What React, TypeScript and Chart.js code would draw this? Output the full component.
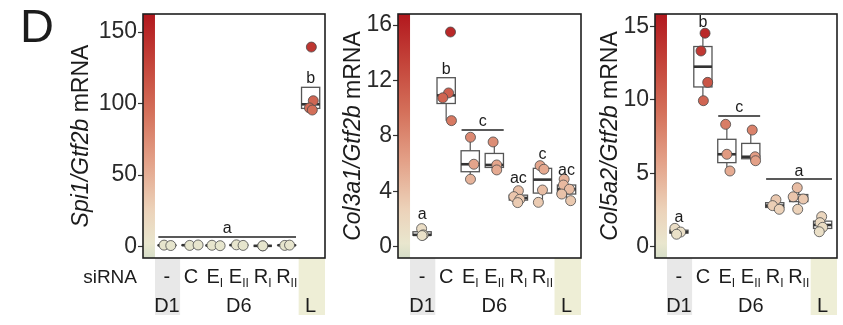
import React, { useEffect, useRef } from 'react';
import { Chart, registerables } from 'chart.js';
Chart.register(...registerables);

const W = 843;
const H = 325;
const FF = '"Liberation Sans", Arial, Helvetica, sans-serif';
const TEXT = '#1c1c1c';
const AXW = 45;

// ---- categories ----
const catLabels = ['-', 'C', 'E', 'E', 'R', 'R', ''];
const catSubs = ['', '', 'I', 'II', 'I', 'II', ''];
const groupLabels = ['D1', 'D6', 'L'];
const groupFrom = [1, 2, 7];
const groupTo = [1, 6, 7];

// ---- Panel 1: Spi1/Gtf2b ----
const spi1Ticks = [0, 50, 100, 150];
const spi1Values = [[1.1, 0.8], [0.9, 1.2], [1.0, 0.7], [1.3, 0.9], [0.6, 0.6], [0.9, 1.1], [139.5, 102, 97, 95.5]];
const spi1Jitter = [[-0.12, 0.16], [-0.05, 0.3], [-0.12, 0.22], [-0.1, 0.18], [0, 0], [-0.08, 0.12], [0.03, 0.11, -0.05, 0.07]];
const spi1SigText = ['a', 'b'];
const spi1SigFrom = [1, 7];
const spi1SigTo = [6, 7];
const spi1SigY = [6.8, 114.2];
const spi1SigLine = [true, false];

// ---- Panel 2: Col3a1/Gtf2b ----
const col3Ticks = [0, 4, 8, 12, 16];
const col3Values = [[1.3, 0.85, 0.8], [15.5, 11.1, 10.75, 9.1], [7.9, 5.95, 4.87], [7.56, 5.9, 5.54], [4.04, 3.61, 3.42, 3.18], [5.85, 5.59, 4.09, 3.2], [4.87, 4.45, 4.15, 3.8, 3.32]];
const col3Jitter = [[-0.02, 0.05, 0.0], [0.18, 0.1, -0.14, 0.22], [0.01, 0.15, 0.01], [-0.05, 0.1, 0.1], [0.0, -0.19, 0.06, -0.03], [-0.1, 0.06, 0.0, -0.17], [-0.1, -0.13, 0.12, -0.2, 0.17]];
const col3SigText = ['a', 'b', 'c', 'ac', 'c', 'ac'];
const col3SigFrom = [1, 2, 3, 5, 6, 7];
const col3SigTo = [1, 2, 4, 5, 6, 7];
const col3SigY = [1.98, 12.5, 8.43, 4.58, 6.31, 5.18];
const col3SigLine = [false, false, true, false, false, false];

// ---- Panel 3: Col5a2/Gtf2b ----
const col5Ticks = [0, 5, 10, 15];
const col5Values = [[1.25, 1.0, 0.85], [14.55, 13.34, 11.2, 9.95], [8.34, 6.3, 5.16], [7.95, 6.13, 5.86], [3.2, 2.8, 2.55], [4.02, 3.4, 3.25, 2.55], [2.05, 1.64, 1.32, 1.02]];
const col5Jitter = [[-0.17, 0.07, -0.1], [0.09, -0.08, 0.2, 0.02], [-0.05, 0.0, 0.13], [0.06, 0.18, 0.2], [0.05, -0.09, 0.19], [-0.06, -0.23, 0.19, -0.04], [-0.04, -0.11, 0.0, -0.14]];
const col5SigText = ['a', 'b', 'c', 'a'];
const col5SigFrom = [1, 2, 3, 5];
const col5SigTo = [1, 2, 4, 7];
const col5SigY = [1.7, 14.96, 8.91, 4.61];
const col5SigLine = [false, false, true, true];

type Panel = {
  left: number; right: number; top: number; bottom: number;
  yMin: number; yMax: number; ticks: number[];
  values: number[][]; jitter: number[][];
  sigText: string[]; sigFrom: number[]; sigTo: number[]; sigY: number[]; sigLine: boolean[];
  titleItalic: string; titleRest: string; titleX: number;
  first: boolean;
};

const panels: Panel[] = [
  { left: 143, right: 325, top: 14, bottom: 258, yMin: -7.9, yMax: 162.6, ticks: spi1Ticks, values: spi1Values, jitter: spi1Jitter,
    sigText: spi1SigText, sigFrom: spi1SigFrom, sigTo: spi1SigTo, sigY: spi1SigY, sigLine: spi1SigLine,
    titleItalic: 'Spi1/Gtf2b', titleRest: ' mRNA', titleX: 88, first: true },
  { left: 398, right: 581, top: 14, bottom: 258, yMin: -0.82, yMax: 16.8, ticks: col3Ticks, values: col3Values, jitter: col3Jitter,
    sigText: col3SigText, sigFrom: col3SigFrom, sigTo: col3SigTo, sigY: col3SigY, sigLine: col3SigLine,
    titleItalic: 'Col3a1/Gtf2b', titleRest: ' mRNA', titleX: 360, first: false },
  { left: 655, right: 837, top: 14, bottom: 258, yMin: -0.77, yMax: 15.86, ticks: col5Ticks, values: col5Values, jitter: col5Jitter,
    sigText: col5SigText, sigFrom: col5SigFrom, sigTo: col5SigTo, sigY: col5SigY, sigLine: col5SigLine,
    titleItalic: 'Col5a2/Gtf2b', titleRest: ' mRNA', titleX: 617, first: false },
];

const stops: [number, number[]][] = [
  [0, [214, 222, 200]],
  [0.06, [233, 230, 206]],
  [0.2, [236, 210, 185]],
  [0.4, [227, 160, 135]],
  [0.6, [212, 112, 90]],
  [0.8, [196, 68, 58]],
  [1, [178, 24, 30]],
];
function colorAt(t: number) {
  t = Math.max(0, Math.min(1, t));
  for (let i = 1; i < stops.length; i++) {
    if (t <= stops[i][0]) {
      const [t0, c0] = stops[i - 1];
      const [t1, c1] = stops[i];
      const f = (t - t0) / (t1 - t0);
      const c = c0.map((v, k) => Math.round(v + (c1[k] - v) * f));
      return `rgb(${c[0]},${c[1]},${c[2]})`;
    }
  }
  const c = stops[stops.length - 1][1];
  return `rgb(${c[0]},${c[1]},${c[2]})`;
}

function q7(s: number[], p: number) {
  const h = (s.length - 1) * p;
  const lo = Math.floor(h);
  const hi = Math.ceil(h);
  return s[lo] + (h - lo) * (s[hi] - s[lo]);
}
function boxStats(vals: number[]) {
  const s = [...vals].sort((a, b) => a - b);
  const q1 = q7(s, 0.25), med = q7(s, 0.5), q3 = q7(s, 0.75);
  const iqr = q3 - q1;
  const lo = Math.min(...s.filter((v) => v >= q1 - 1.5 * iqr));
  const hi = Math.max(...s.filter((v) => v <= q3 + 1.5 * iqr));
  return { q1, med, q3, lo, hi };
}

function makePlugin(p: Panel) {
  return {
    id: 'panelDecor',
    beforeDraw(chart: any) {
      const ctx = chart.ctx as CanvasRenderingContext2D;
      const a = chart.chartArea;
      const xs = chart.scales.x;
      ctx.save();
      // gradient strip
      const g = ctx.createLinearGradient(0, a.bottom, 0, a.top);
      stops.forEach(([t, c]) => g.addColorStop(t, `rgb(${c[0]},${c[1]},${c[2]})`));
      ctx.fillStyle = g;
      ctx.fillRect(a.left, a.top, xs.getPixelForValue(0.5) - a.left, a.bottom - a.top);
      // bands under axis
      ctx.fillStyle = '#e8e8e8';
      const g1 = xs.getPixelForValue(0.5), g2 = xs.getPixelForValue(1.55);
      ctx.fillRect(g1, a.bottom, g2 - g1, 315 - a.bottom);
      ctx.fillStyle = '#eeeed6';
      const l1 = xs.getPixelForValue(6.5);
      ctx.fillRect(l1, a.bottom, a.right - l1, 315 - a.bottom);
      // category labels
      ctx.fillStyle = TEXT;
      ctx.textBaseline = 'alphabetic';
      ctx.textAlign = 'left';
      for (let i = 0; i < catLabels.length; i++) {
        if (!catLabels[i]) continue;
        const cx = xs.getPixelForValue(i + 1);
        ctx.font = `20px ${FF}`;
        const mw = ctx.measureText(catLabels[i]).width;
        ctx.font = `12px ${FF}`;
        const sw = catSubs[i] ? ctx.measureText(catSubs[i]).width : 0;
        const x0 = cx - (mw + sw) / 2;
        ctx.font = `20px ${FF}`;
        ctx.fillText(catLabels[i], x0, 283);
        if (catSubs[i]) {
          ctx.font = `12px ${FF}`;
          ctx.fillText(catSubs[i], x0 + mw, 287);
        }
      }
      ctx.textAlign = 'center';
      ctx.font = `20px ${FF}`;
      for (let i = 0; i < groupLabels.length; i++) {
        const cx = xs.getPixelForValue((groupFrom[i] + groupTo[i]) / 2);
        ctx.fillText(groupLabels[i], cx, 312);
      }
      if (p.first) {
        ctx.textAlign = 'right';
        ctx.font = `19px ${FF}`;
        ctx.fillText('siRNA', 137, 283);
        ctx.textAlign = 'left';
        ctx.font = `47px ${FF}`;
        ctx.fillText('D', 20, 42);
      }
      // y title
      const yc = (a.top + a.bottom) / 2;
      ctx.translate(p.titleX, yc);
      ctx.rotate(-Math.PI / 2);
      ctx.font = `italic 23px ${FF}`;
      const w1 = ctx.measureText(p.titleItalic).width;
      ctx.font = `23px ${FF}`;
      const w2 = ctx.measureText(p.titleRest).width;
      const sx = -(w1 + w2) / 2;
      ctx.textAlign = 'left';
      ctx.font = `italic 23px ${FF}`;
      ctx.fillText(p.titleItalic, sx, 0);
      ctx.font = `23px ${FF}`;
      ctx.fillText(p.titleRest, sx + w1, 0);
      ctx.restore();
    },
    beforeDatasetsDraw(chart: any) {
      const ctx = chart.ctx as CanvasRenderingContext2D;
      const xs = chart.scales.x, ys = chart.scales.y;
      ctx.save();
      p.values.forEach((vals, i) => {
        const st = boxStats(vals);
        const cx = xs.getPixelForValue(i + 1);
        const hw = (xs.getPixelForValue(i + 1.38) - xs.getPixelForValue(i + 1));
        const yq1 = ys.getPixelForValue(st.q1), yq3 = ys.getPixelForValue(st.q3);
        ctx.strokeStyle = '#555';
        ctx.lineWidth = 1.2;
        ctx.beginPath();
        ctx.moveTo(cx, ys.getPixelForValue(st.hi));
        ctx.lineTo(cx, yq3);
        ctx.moveTo(cx, yq1);
        ctx.lineTo(cx, ys.getPixelForValue(st.lo));
        ctx.stroke();
        ctx.fillStyle = '#ffffff';
        ctx.fillRect(cx - hw, yq3, 2 * hw, yq1 - yq3);
        ctx.lineWidth = 1.3;
        ctx.strokeRect(cx - hw, yq3, 2 * hw, yq1 - yq3);
        ctx.strokeStyle = '#333';
        ctx.lineWidth = 2.6;
        ctx.beginPath();
        const ym = ys.getPixelForValue(st.med);
        ctx.moveTo(cx - hw, ym);
        ctx.lineTo(cx + hw, ym);
        ctx.stroke();
      });
      ctx.restore();
    },
    afterDatasetsDraw(chart: any) {
      const ctx = chart.ctx as CanvasRenderingContext2D;
      const a = chart.chartArea;
      const xs = chart.scales.x, ys = chart.scales.y;
      ctx.save();
      ctx.fillStyle = TEXT;
      ctx.strokeStyle = '#222';
      ctx.font = `16px ${FF}`;
      ctx.textAlign = 'center';
      ctx.textBaseline = 'alphabetic';
      p.sigText.forEach((t, i) => {
        const y = ys.getPixelForValue(p.sigY[i]);
        if (p.sigLine[i]) {
          const x1 = xs.getPixelForValue(p.sigFrom[i] - 0.36);
          const x2 = xs.getPixelForValue(p.sigTo[i] + 0.39);
          ctx.lineWidth = 1.5;
          ctx.beginPath();
          ctx.moveTo(x1, y);
          ctx.lineTo(x2, y);
          ctx.stroke();
          ctx.fillText(t, (x1 + x2) / 2, y - 3.5);
        } else {
          ctx.fillText(t, xs.getPixelForValue((p.sigFrom[i] + p.sigTo[i]) / 2), y);
        }
      });
      ctx.lineWidth = 1.6;
      ctx.strokeStyle = '#1e1e1e';
      ctx.strokeRect(a.left, a.top, a.right - a.left, a.bottom - a.top);
      ctx.restore();
    },
  };
}

function makeChart(canvas: HTMLCanvasElement, p: Panel) {
  const pts: { x: number; y: number }[] = [];
  const cols: string[] = [];
  p.values.forEach((vals, i) => {
    vals.forEach((v, j) => {
      pts.push({ x: i + 1 + p.jitter[i][j], y: v });
      cols.push(colorAt((v - p.yMin) / (p.yMax - p.yMin)));
    });
  });
  return new Chart(canvas, {
    type: 'scatter',
    data: {
      datasets: [{
        data: pts,
        pointRadius: 5,
        pointHoverRadius: 5,
        pointBackgroundColor: cols,
        pointBorderColor: '#4a4a4a',
        pointBorderWidth: 0.8,
      }],
    },
    options: {
      responsive: false,
      animation: false,
      devicePixelRatio: 1,
      events: [],
      layout: { padding: { left: p.left - AXW, right: W - p.right, top: p.top, bottom: H - p.bottom } },
      plugins: { legend: { display: false }, tooltip: { enabled: false } },
      scales: {
        x: { type: 'linear', min: 0, max: 7.6, display: false },
        y: {
          type: 'linear',
          min: p.yMin,
          max: p.yMax,
          afterBuildTicks: (s: any) => { s.ticks = p.ticks.map((v) => ({ value: v })); },
          afterFit: (s: any) => { s.width = AXW; },
          grid: { display: true, drawOnChartArea: false, drawTicks: true, tickLength: 5, tickColor: '#333', tickWidth: 1.2 },
          border: { display: false },
          ticks: { font: { family: FF, size: 23, lineHeight: 1 }, color: '#2a2a2a', padding: 1 },
        },
      },
    } as any,
    plugins: [makePlugin(p)],
  });
}

export default function App() {
  const r0 = useRef<HTMLCanvasElement>(null);
  const r1 = useRef<HTMLCanvasElement>(null);
  const r2 = useRef<HTMLCanvasElement>(null);
  const refs = [r0, r1, r2];
  useEffect(() => {
    const charts = panels.map((p, i) => makeChart(refs[i].current as HTMLCanvasElement, p));
    return () => charts.forEach((c) => c.destroy());
  }, []);
  return (
    <div style={{ position: 'absolute', left: 0, top: 0, width: W, height: H, background: '#ffffff' }}>
      {panels.map((_, i) => (
        <canvas key={i} ref={refs[i]} width={W} height={H}
          style={{ position: 'absolute', left: 0, top: 0, width: W, height: H }} />
      ))}
    </div>
  );
}
